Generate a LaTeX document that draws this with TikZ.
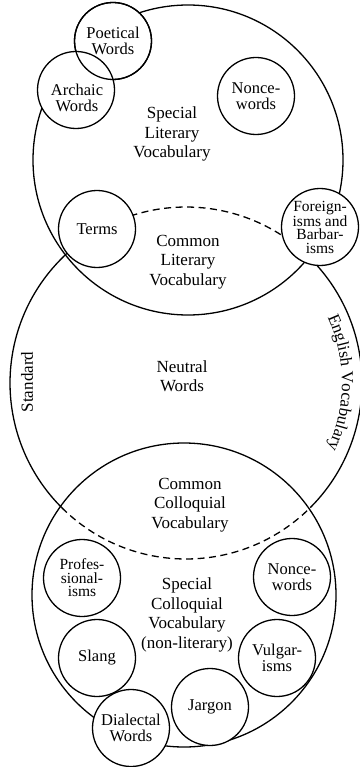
\documentclass[tikz,border=0pt]{standalone}
\usepackage{fontspec}
\setmainfont{Liberation Serif}
\usetikzlibrary{decorations.text}
\begin{document}
\begin{tikzpicture}[x=1pt,y=1pt,line width=1.3pt,
  small/.style={circle,draw,fill=white,minimum size=77pt,inner sep=0pt,align=center,font=\fontsize{16.5}{16}\selectfont},
  tight/.style={font=\fontsize{15.5}{13.5}\selectfont},
  lbl/.style={align=center,font=\fontsize{17}{19.5}\selectfont},
  big/.style={circle,draw,inner sep=0pt},
  dashline/.style={dash pattern=on 7pt off 4.5pt}]
\useasboundingbox (0,0) rectangle (359,-767);
% big circles
\node[big,minimum size=310pt] (lit) at (188,-160) {};
\node[big,minimum size=304pt] (col) at (184,-595) {};
\coordinate (mid) at (186,-383);
\draw ([shift={(-45.1:176pt)}]mid) arc[start angle=-45.1,end angle=46.2,radius=176pt];
\draw ([shift={(133.8:176pt)}]mid) arc[start angle=133.8,end angle=225.1,radius=176pt];
\draw[dashline] ([shift={(46.2:176pt)}]mid) arc[start angle=46.2,end angle=133.8,radius=176pt];
\draw[dashline] ([shift={(225.1:176pt)}]mid) arc[start angle=225.1,end angle=314.9,radius=176pt];
% curved label
\path[decorate,decoration={text along path,text align=center,
  text={|\fontsize{17}{19}\selectfont|English Vocabulary}}]
  ([shift={(35:156pt)}]mid) arc[start angle=35,end angle=-35,radius=156pt];
\node[lbl,rotate=90] (std) at (27,-382) {Standard};
% labels
\node[lbl] (slv) at (172,-134) {Special\\Literary\\Vocabulary};
\node[lbl] (clv) at (188,-262) {Common\\Literary\\Vocabulary};
\node[lbl] (nw) at (182,-376) {Neutral\\Words};
\node[lbl] (ccv) at (190,-505) {Common\\Colloquial\\Vocabulary};
\node[lbl] (scv) at (187,-615) {Special\\Colloquial\\Vocabulary\\(non-literary)};
% small circles
\node[small] (poet) at (113,-41) {Poetical\\Words};
\node[small] (arch) at (76,-90) {};
\node[lbl,font=\fontsize{16.5}{16}\selectfont] (archt) at (77,-98) {Archaic\\Words};
\draw (poet.center) circle (38.5pt);
\node[small] (n1) at (256,-96) {Nonce-\\words};
\node[small] (terms) at (97,-229) {Terms};
\node[small,tight] (for) at (320,-227) {Foreign-\\isms and\\Barbar-\\isms};
\node[small,tight] (prof) at (82,-578) {Profes-\\sional-\\isms};
\node[small] (n2) at (292,-577) {Nonce-\\words};
\node[small] (slang) at (97,-658) {Slang};
\node[small] (vulg) at (277,-658) {Vulgar-\\isms};
\node[small] (jarg) at (210,-707) {Jargon};
\node[small] (dial) at (131,-728) {Dialectal\\Words};
\end{tikzpicture}
\end{document}
